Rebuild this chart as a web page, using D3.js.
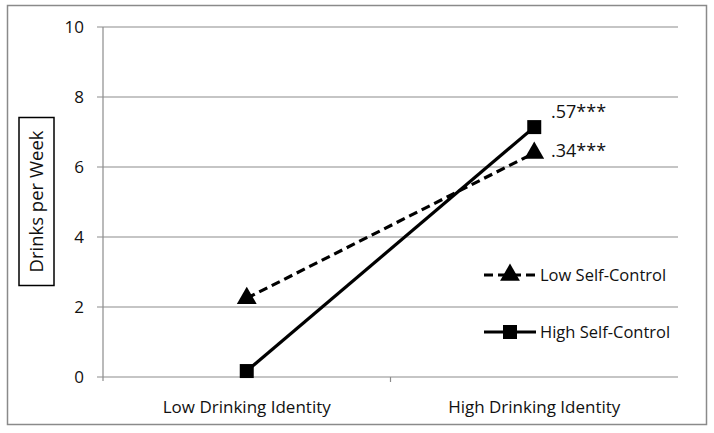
<!DOCTYPE html>
<html><head><meta charset="utf-8">
<script src="https://cdn.jsdelivr.net/npm/d3@7"></script>
<style>body{margin:0;background:#fff}svg{display:block}text{font-family:"Open Sans",sans-serif;fill:#111}</style>
</head><body>
<script>
const categories = ["Low Drinking Identity", "High Drinking Identity"];
const lowSelfControl = [2.25, 6.4];
const highSelfControl = [0.17, 7.14];
const yTicks = [0, 2, 4, 6, 8, 10];
const seriesNames = ["Low Self-Control", "High Self-Control"];
const slopeLabels = [".34***", ".57***"];

const W = 714, H = 433;
const svg = d3.select("body").append("svg").attr("width", W).attr("height", H);
svg.append("rect").attr("x", 7.5).attr("y", 5.5).attr("width", 699).attr("height", 419)
  .attr("fill", "#fff").attr("stroke", "#8a8a8a").attr("stroke-width", 1.5);

const x = d3.scaleBand().domain(categories).range([103, 678]);
const y = d3.scaleLinear().domain([0, 10]).range([377, 27]);

// gridlines
svg.append("g").selectAll("line").data(yTicks).join("line")
  .attr("x1", 97).attr("x2", 678).attr("y1", d => y(d)).attr("y2", d => y(d))
  .attr("stroke", "#8c8c8c").attr("stroke-width", 1.2);
// y axis
svg.append("line").attr("x1", 103).attr("x2", 103).attr("y1", y(10)).attr("y2", y(0) + 4)
  .attr("stroke", "#8c8c8c").attr("stroke-width", 1.2);
// x mid tick
svg.append("line").attr("x1", x.range()[0] + x.bandwidth()).attr("x2", x.range()[0] + x.bandwidth())
  .attr("y1", y(0)).attr("y2", y(0) + 5).attr("stroke", "#8c8c8c").attr("stroke-width", 1.2);

svg.append("g").selectAll("text").data(yTicks).join("text")
  .attr("x", 84).attr("y", d => y(d)).attr("dy", "0.35em").attr("text-anchor", "end")
  .attr("font-size", 17).text(d => d);

svg.append("g").selectAll("text").data(categories).join("text")
  .attr("x", d => x(d) + x.bandwidth() / 2).attr("y", 413).attr("text-anchor", "middle")
  .attr("font-size", 17).text(d => d);

// y title
const yt = svg.append("g").attr("transform", "translate(36.5,201.5) rotate(-90)");
yt.append("rect").attr("x", -84).attr("y", -17.5).attr("width", 168).attr("height", 35)
  .attr("fill", "#fff").attr("stroke", "#000").attr("stroke-width", 1.5);
yt.append("text").attr("text-anchor", "middle").attr("dy", "0.35em").attr("font-size", 18.5)
  .text("Drinks per Week");

const cx = (d, i) => x(categories[i]) + x.bandwidth() / 2;
const line = d3.line().x((d, i) => cx(d, i)).y(d => y(d));

svg.append("path").datum(lowSelfControl).attr("d", line).attr("fill", "none")
  .attr("stroke", "#000").attr("stroke-width", 3.2).attr("stroke-dasharray", "9,5");
svg.append("path").datum(highSelfControl).attr("d", line).attr("fill", "none")
  .attr("stroke", "#000").attr("stroke-width", 3.2);

const tri = d3.symbol().type(d3.symbolTriangle).size(170);
const sq = d3.symbol().type(d3.symbolSquare).size(196);
svg.append("g").selectAll("path").data(lowSelfControl).join("path")
  .attr("transform", (d, i) => `translate(${cx(d, i)},${y(d)})`).attr("d", tri()).attr("fill", "#000");
svg.append("g").selectAll("path").data(highSelfControl).join("path")
  .attr("transform", (d, i) => `translate(${cx(d, i)},${y(d)})`).attr("d", sq()).attr("fill", "#000");

// slope labels
svg.append("text").attr("x", 551).attr("y", y(highSelfControl[1]) - 15).attr("dy", "0.35em").attr("font-size", 18).text(slopeLabels[1]);
svg.append("text").attr("x", 551).attr("y", y(lowSelfControl[1]) - 2).attr("dy", "0.35em").attr("font-size", 18).text(slopeLabels[0]);

// legend
const leg = [{name: seriesNames[0], dash: "9,5", sym: tri, y: 275}, {name: seriesNames[1], dash: null, sym: sq, y: 332}];
const lg = svg.append("g").selectAll("g").data(leg).join("g");
lg.append("line").attr("x1", 484).attr("x2", 536).attr("y1", d => d.y).attr("y2", d => d.y)
  .attr("stroke", "#000").attr("stroke-width", 3.2).attr("stroke-dasharray", d => d.dash);
lg.append("path").attr("transform", d => `translate(510,${d.y})`).attr("d", d => d.sym()).attr("fill", "#000");
lg.append("text").attr("x", 540).attr("y", d => d.y).attr("dy", "0.35em").attr("font-size", 16.5).text(d => d.name);
</script>
</body></html>
